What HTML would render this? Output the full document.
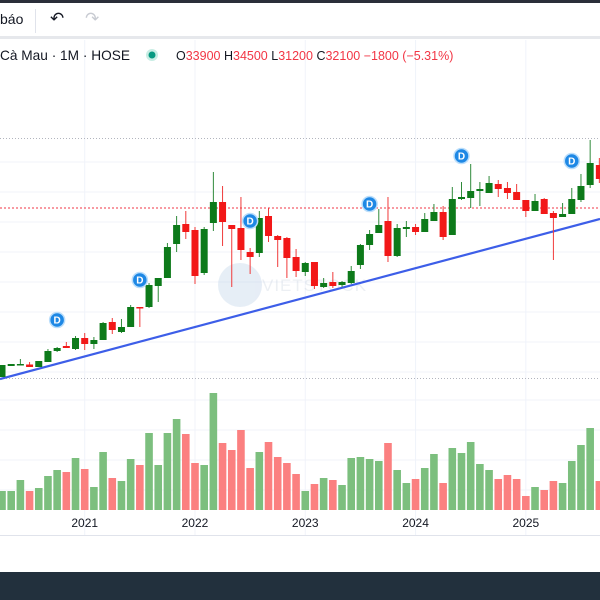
<!DOCTYPE html>
<html><head><meta charset="utf-8"><style>
html,body{margin:0;padding:0;width:600px;height:600px;overflow:hidden;background:#fff;font-family:"Liberation Sans","Noto Sans CJK SC",sans-serif}
#top{position:absolute;left:0;top:0;width:600px;height:3px;background:#2a2e39}
#toolbar{position:absolute;left:0;top:3px;width:600px;height:33px;background:#fff}
#tbline{position:absolute;left:0;top:36px;width:600px;height:3px;background:#e6e8ec}
#footer{position:absolute;left:0;top:572px;width:600px;height:28px;background:#22303d}
svg{position:absolute;left:0;top:0}
</style></head><body>
<div id="top"></div>
<div id="toolbar">
 <span style="position:absolute;left:0;top:8px;font-size:14px;color:#131722">báo</span>
 <div style="position:absolute;left:35px;top:6px;width:1px;height:24px;background:#e0e3eb"></div>
 <span style="position:absolute;left:50px;top:6px;font-size:17px;color:#131722">↶</span>
 <span style="position:absolute;left:85px;top:6px;font-size:17px;color:#c8cbd2">↷</span>
</div>
<div id="tbline"></div>
<div id="footer"></div>
<svg id="chart" width="600" height="600"></svg>
<script>
const yearLabels=['2021','2022','2023','2024','2025'];
const yearIndex=[9,21,33,45,57];
const opens=[10.1,11.2,11.3,11.35,11.1,11.6,12.7,13.2,12.9,14.0,13.4,13.8,15.6,14.6,15.1,17.1,17.1,19.2,20.0,23.4,25.4,24.8,20.5,25.5,27.6,25.3,25.0,22.6,22.5,26.2,24.2,24.0,22.1,20.6,21.6,19.1,19.6,19.3,19.5,21.3,23.3,24.5,25.7,22.2,24.9,25.1,24.6,25.7,26.6,24.3,27.9,28.0,28.7,28.5,29.4,29.0,28.6,27.8,26.7,27.9,26.5,26.1,26.4,27.8,29.3,31.3];
const highs=[11.3,11.4,11.9,11.6,11.7,12.9,13.1,13.6,14.2,14.5,14.1,15.6,16.0,15.9,17.3,17.1,19.5,20.0,23.5,26.2,26.7,25.1,25.1,30.6,29.2,25.3,28.1,23.0,26.7,27.0,24.3,24.1,22.9,21.6,21.6,20.0,20.6,19.7,21.2,23.4,24.8,26.9,28.1,25.4,25.7,25.4,26.5,27.4,27.2,29.1,29.6,31.4,29.6,30.2,29.8,29.6,29.4,27.8,28.4,28.0,26.7,27.5,29.0,30.4,33.8,32.0];
const lows=[10.1,11.2,11.3,11.1,11.1,11.6,12.6,13.0,12.8,12.8,12.9,13.8,14.4,14.5,15.1,15.1,17.0,17.6,20.0,22.6,23.9,19.4,20.3,24.7,23.2,19.1,21.8,20.4,22.1,23.6,21.1,20.0,20.1,20.2,18.9,19.0,19.0,19.1,19.4,20.9,22.8,24.5,21.6,22.1,24.1,24.3,24.6,25.7,23.8,24.3,27.8,27.0,27.2,28.5,28.1,27.9,27.8,26.1,26.7,26.4,21.8,26.1,26.4,27.6,29.0,29.5];
const closes=[11.3,11.4,11.4,11.1,11.7,12.7,13.0,13.0,14.0,13.4,13.8,15.5,14.8,15.1,17.1,17.0,19.3,20.0,23.1,25.3,24.6,20.2,24.9,27.6,25.6,24.9,22.8,22.1,26.0,24.2,23.8,22.0,20.7,21.5,19.2,19.5,19.2,19.6,20.7,23.3,24.4,25.3,22.2,25.0,25.1,24.6,25.9,26.6,24.1,27.9,28.1,28.7,28.9,29.5,28.9,28.5,27.8,26.7,27.7,26.4,26.0,26.4,27.9,29.2,31.5,29.9];
const volumes=[19,19,30,19,22,34,40,38,52,41,23,58,32,29,51,45,77,45,77,91,76,47,45,117,67,60,80,42,58,68,53,47,36,19,26,32,30,25,52,53,51,49,67,40,27,31,42,56,27,62,57,68,46,40,31,35,31,14,23,20,29,27,49,65,82,29];
const volColors=['G','G','G','R','G','G','G','R','G','R','G','G','R','G','G','R','G','G','G','G','R','R','G','G','R','R','R','R','G','R','R','R','R','G','R','G','R','G','G','G','G','G','R','G','G','R','G','G','R','G','G','G','G','G','R','R','R','R','G','R','R','G','G','G','G','R'];
const dividendIdx=[6,15,27,40,50,62];
const dividendPrice=[15.8,19.8,25.7,27.4,32.2,31.7];
const levelPrice=27.0;
const trendStart=10.0, trendEnd=25.9;

const NS='http://www.w3.org/2000/svg';
const svg=document.getElementById('chart');
const xOf=i=>2+i*9.19;
const yOf=p=>378-(p-10)*10;
const yVol=v=>510-v;
function el(tag,attrs,parent){const e=document.createElementNS(NS,tag);for(const k in attrs)e.setAttribute(k,attrs[k]);(parent||svg).appendChild(e);return e;}

const grid=el('g',{});


for(let y=162;y<=372;y+=30){el('line',{x1:0,x2:600,y1:y,y2:y,stroke:'#f0f3fa','stroke-width':1},grid);}
for(let y=400;y<=490;y+=30){el('line',{x1:0,x2:600,y1:y,y2:y,stroke:'#f0f3fa','stroke-width':1},grid);}
yearIndex.forEach(i=>{el('line',{x1:xOf(i),x2:xOf(i),y1:40,y2:535,stroke:'#f0f3fa','stroke-width':1},grid);});
el('line',{x1:0,x2:600,y1:138.5,y2:138.5,stroke:'#b2b5be','stroke-dasharray':'1 2','stroke-width':1},grid);
el('line',{x1:0,x2:600,y1:378.5,y2:378.5,stroke:'#b2b5be','stroke-dasharray':'1 2','stroke-width':1},grid);
el('line',{x1:0,x2:600,y1:535.5,y2:535.5,stroke:'#e0e3eb','stroke-width':1},grid);
const lvl=el('line',{x1:0,x2:600,y1:yOf(levelPrice),y2:yOf(levelPrice),stroke:'#f23645','stroke-dasharray':'2 2','stroke-width':1});



const wm=el('g',{opacity:0.35});


el('circle',{cx:240,cy:285,r:22,fill:'#b8cde6'},wm);
const wt=el('text',{x:262,y:291,'font-size':'17','font-family':'Liberation Sans, sans-serif',fill:'#c9d3df','letter-spacing':'1'},wm);
wt.textContent='VIETSTOCK';

volumes.forEach((v,i)=>{
 const r=el('rect',{x:xOf(i)-3.8,y:yVol(v),width:7.6,height:v,fill:volColors[i]==='G'?'#7cbf7e':'#fb8080'});
 
 
});

const tl=el('line',{x1:0,y1:yOf(trendStart)+1,x2:600,y2:yOf(trendEnd),stroke:'#3d5ee8','stroke-width':2.2});



opens.forEach((o,i)=>{
 const c=closes[i],up=c>=o,col=up?'#0d7a1a':'#f21818';
 const g=el('g',{});
 
 
 const x=xOf(i);
 el('line',{x1:x,x2:x,y1:yOf(highs[i]),y2:yOf(lows[i]),stroke:up?'#2f8a3a':'#f03a3a','stroke-width':1},g);
 const top=yOf(Math.max(o,c)),bot=yOf(Math.min(o,c));
 el('rect',{x:x-3.5,y:top,width:7,height:Math.max(1.5,bot-top),fill:col},g);
});

dividendIdx.forEach((i,k)=>{
 const g=el('g',{});
 
 
 const y=yOf(dividendPrice[k]);
 el('circle',{cx:xOf(i),cy:y,r:7.5,fill:'#1e88e5',stroke:'#bbdefb','stroke-width':1.5},g);
 const t=el('text',{x:xOf(i),y:y+3.5,'text-anchor':'middle','font-size':'10','font-weight':'bold',fill:'#fff','font-family':'Liberation Sans, sans-serif'},g);
 t.textContent='D';
});

yearLabels.forEach((lab,k)=>{
 const t=el('text',{x:xOf(yearIndex[k]),y:527,'text-anchor':'middle','font-size':'12',fill:'#131722','font-family':'Liberation Sans, sans-serif'});
 
 
 t.textContent=lab;
});

const lg=el('g',{});


const lt=el('text',{x:0,y:60,'font-size':'14','font-family':'Liberation Sans, sans-serif',fill:'#131722',textLength:'130',lengthAdjust:'spacingAndGlyphs'},lg);
lt.textContent='Cà Mau · 1M · HOSE';
el('circle',{cx:152,cy:55,r:6,fill:'#c8ede4'},lg);
el('circle',{cx:152,cy:55,r:3.5,fill:'#089981'},lg);
const ohlc=el('text',{x:176,y:60,'font-size':'12.5','font-family':'Liberation Sans, sans-serif'},lg);
[['O','#131722'],['33900','#f23645'],[' H','#131722'],['34500','#f23645'],[' L','#131722'],['31200','#f23645'],[' C','#131722'],['32100','#f23645'],[' −1800 (−5.31%)','#f23645']].forEach(([s,c])=>{
 const ts=el('tspan',{fill:c},ohlc);ts.textContent=s;
});
</script>
</body></html>
